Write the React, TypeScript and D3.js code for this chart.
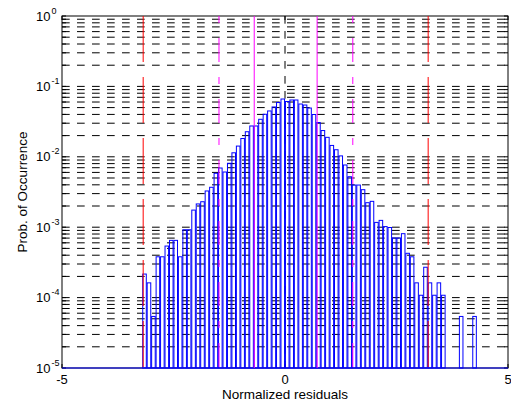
import React from "react";
import * as d3 from "d3";

const binCenters = [
  -3.15, -3.05, -2.95, -2.85, -2.75, -2.65, -2.55, -2.45, -2.35, -2.25,
  -2.15, -2.05, -1.95, -1.85, -1.75, -1.65, -1.55, -1.45, -1.35, -1.25,
  -1.15, -1.05, -0.95, -0.85, -0.75, -0.65, -0.55, -0.45, -0.35, -0.25,
  -0.15, -0.05, 0.05, 0.15, 0.25, 0.35, 0.45, 0.55, 0.65, 0.75,
  0.85, 0.95, 1.05, 1.15, 1.25, 1.35, 1.45, 1.55, 1.65, 1.75,
  1.85, 1.95, 2.05, 2.15, 2.25, 2.35, 2.45, 2.55, 2.65, 2.75,
  2.85, 2.95, 3.05, 3.15, 3.25, 3.35, 3.45, 3.55, 3.65, 3.75,
  3.85, 3.95, 4.05, 4.15, 4.25,
];

const probabilities = [
  2.16e-4, 1.62e-4, 5.4e-5, 3.8e-4, 3.8e-4, 5.4e-4, 6.5e-4, 6.5e-4, 3.8e-4, 9.2e-4,
  9.2e-4, 1.75e-3, 2.14e-3, 2.3e-3, 3.27e-3, 3.69e-3, 5.83e-3, 6.93e-3, 6.08e-3, 8.09e-3,
  1.14e-2, 1.42e-2, 1.82e-2, 2.27e-2, 2.74e-2, 2.74e-2, 3.41e-2, 4.02e-2, 4.48e-2, 5.1e-2,
  5.9e-2, 6.62e-2, 6.1e-2, 6.41e-2, 6.41e-2, 5.62e-2, 5.44e-2, 4.93e-2, 3.99e-2, 3.07e-2,
  2.36e-2, 1.89e-2, 1.45e-2, 1.26e-2, 1.03e-2, 7.65e-3, 5.21e-3, 3.97e-3, 3.97e-3, 3.41e-3,
  2.23e-3, 2.33e-3, 1.17e-3, 1.25e-3, 1.02e-3, 9.9e-4, 7.03e-4, 7.03e-4, 8.09e-4, 4.26e-4,
  3.8e-4, 1.62e-4, 1.08e-4, 2.7e-4, 1.62e-4, 1.08e-4, 1.62e-4, 1.08e-4, 0, 0,
  0, 5.4e-5, 0, 0, 5.4e-5,
];

const redLines = [-3.18, 3.21];
const magentaDashDotLines = [-1.48, 1.52];
const magentaSolidLines = [-0.69, 0.72];
const xTicks = [-5, 0, 5];
const yTickExponents = [0, -1, -2, -3, -4, -5];
const xLabel = "Normalized residuals";
const yLabel = "Prob. of Occurrence";

const W = 511;
const H = 404;
const L = 62;
const R = 508;
const T = 16;
const B = 368;
const FONT = "'Liberation Sans', Arial, Helvetica, sans-serif";

export default function App() {
  const x = d3.scaleLinear().domain([-5, 5]).range([L, R]);
  const y = d3.scaleLog().domain([1e-5, 1]).range([B, T]);
  const allTicks = y.ticks();
  const gridVals = allTicks.filter((v) => v > 1.0001e-5 && v < 0.9999);
  const barW = x(0.08) - x(0);
  const bars = binCenters
    .map((c, i) => ({ c, v: probabilities[i] }))
    .filter((d) => d.v > 0);

  return (
    <svg
      width={W}
      height={H}
      viewBox={`0 0 ${W} ${H}`}
      style={{ position: "fixed", left: 0, top: 0, background: "#fff" }}
      fontFamily={FONT}
    >
      <rect x={0} y={0} width={W} height={H} fill="#fff" />
      {gridVals.map((v, i) => (
        <line
          key={"g" + i}
          x1={L}
          x2={R}
          y1={y(v)}
          y2={y(v)}
          stroke="#000"
          strokeWidth={1}
          strokeDasharray="7.7,7.3"
        />
      ))}
      {xTicks
        .filter((t) => t > -5 && t < 5)
        .map((t) => (
          <line
            key={"vg" + t}
            x1={x(t)}
            x2={x(t)}
            y1={T}
            y2={B}
            stroke="#000"
            strokeWidth={1}
            strokeDasharray="7.7,7.3"
          />
        ))}
      <rect x={L} y={T} width={R - L} height={B - T} fill="none" stroke="#000" strokeWidth={1} />
      {allTicks.map((v, i) => (
        <g key={"yt" + i}>
          <line x1={L} x2={L + 4} y1={y(v)} y2={y(v)} stroke="#000" />
          <line x1={R} x2={R - 4} y1={y(v)} y2={y(v)} stroke="#000" />
        </g>
      ))}
      {xTicks.map((t) => (
        <g key={"xt" + t}>
          <line x1={x(t)} x2={x(t)} y1={B} y2={B - 4} stroke="#000" />
          <line x1={x(t)} x2={x(t)} y1={T} y2={T + 4} stroke="#000" />
        </g>
      ))}
      {bars.map((d, i) => (
        <rect
          key={"b" + i}
          x={x(d.c) - barW / 2}
          y={y(d.v)}
          width={barW}
          height={B - y(d.v)}
          fill="none"
          stroke="#0000ff"
          strokeWidth={1}
        />
      ))}
      <line x1={L} x2={R} y1={B} y2={B} stroke="#0000ff" strokeWidth={1} />
      {redLines.map((v) => (
        <line
          key={"r" + v}
          x1={x(v)}
          x2={x(v)}
          y1={T}
          y2={B}
          stroke="#ff0000"
          strokeWidth={1}
          strokeDasharray="46,15"
        />
      ))}
      {magentaDashDotLines.map((v) => (
        <line
          key={"md" + v}
          x1={x(v)}
          x2={x(v)}
          y1={T}
          y2={B}
          stroke="#ff00ff"
          strokeWidth={1}
          strokeDasharray="7,15,24,15"
        />
      ))}
      {magentaSolidLines.map((v) => (
        <line key={"ms" + v} x1={x(v)} x2={x(v)} y1={T} y2={B} stroke="#ff00ff" strokeWidth={1} />
      ))}
      {yTickExponents.map((e) => (
        <g key={"yl" + e}>
          <text x={50.5} y={y(Math.pow(10, e)) + 4.5} fontSize={13} textAnchor="end" fill="#000">
            10
          </text>
          <text x={51.5} y={y(Math.pow(10, e)) - 2.5} fontSize={9} textAnchor="start" fill="#000">
            {e === 0 ? "0" : String(e)}
          </text>
        </g>
      ))}
      {xTicks.map((t) => (
        <text key={"xl" + t} x={x(t)} y={384} fontSize={13} textAnchor="middle" fill="#000">
          {String(t)}
        </text>
      ))}
      <text x={(L + R) / 2} y={399} fontSize={13.5} textAnchor="middle" fill="#000">
        {xLabel}
      </text>
      <text
        transform={`translate(27, ${(T + B) / 2}) rotate(-90)`}
        fontSize={13.5}
        textAnchor="middle"
        fill="#000"
      >
        {yLabel}
      </text>
    </svg>
  );
}
